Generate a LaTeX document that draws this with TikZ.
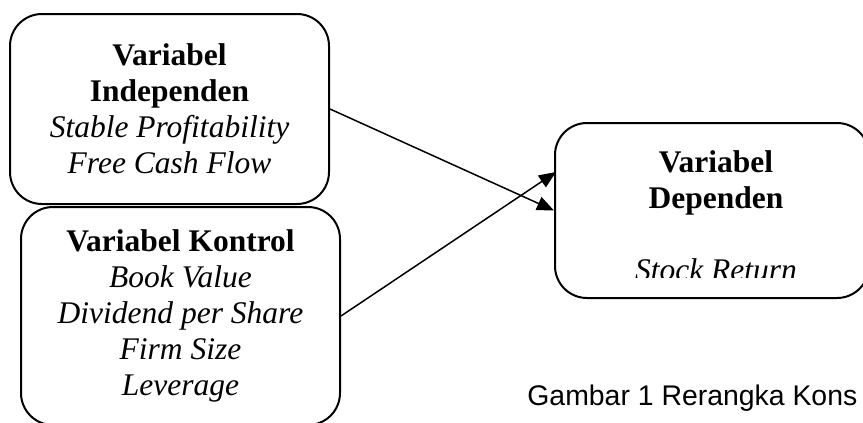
\documentclass[tikz,border=0pt]{standalone}
\usepackage{fontspec}
\setmainfont{Liberation Serif}
\newfontfamily\capfont{Liberation Sans}
\usetikzlibrary{arrows.meta}

\tikzset{
	varbox/.style={draw, line width=1pt, rounded corners=16pt, align=center, inner sep=0pt,
		font=\fontsize{15.75}{18}\selectfont},
	link/.style={-{Triangle[length=8.5pt,width=7pt]}, line width=0.75pt}
}

\begin{document}
\begin{tikzpicture}[x=0.5pt,y=-0.5pt]
	\useasboundingbox (0,0) rectangle (863,423);

	\node[varbox, minimum width=159.5pt, minimum height=95pt] (indep) at (169.5,109)
		{\textbf{Variabel}\\\textbf{Independen}\\\textit{Stable Profitability}\\\textit{Free Cash Flow}};
	\node[varbox, minimum width=159.5pt, minimum height=109pt] (kontrol) at (180.5,316)
		{\textbf{Variabel Kontrol}\\\textit{Book Value}\\\textit{Dividend per Share}\\\textit{Firm Size}\\\textit{Leverage}};
	\node[varbox, minimum width=157pt, minimum height=87.5pt] (dep) at (712,210.5) {};

	% last line of the box is cut off
	\begin{scope}
		\clip (556,123) rectangle (863,277);
		\node[align=center, inner sep=0pt, font=\fontsize{15.75}{18}\selectfont] (deptext) at (716,216)
			{\textbf{Variabel}\\\textbf{Dependen}\\[18pt]\textit{Stock Return}};
	\end{scope}
	\coordinate (depin) at (556,172);

	\draw[link] (indep.east) -- (dep.west);
	\draw[link] (kontrol.east) -- (depin);

	\node[anchor=base west, inner sep=0pt, font=\capfont\fontsize{14.2}{17}\selectfont] (caption) at (527,405)
		{Gambar 1 Rerangka Kons};
\end{tikzpicture}
\end{document}
